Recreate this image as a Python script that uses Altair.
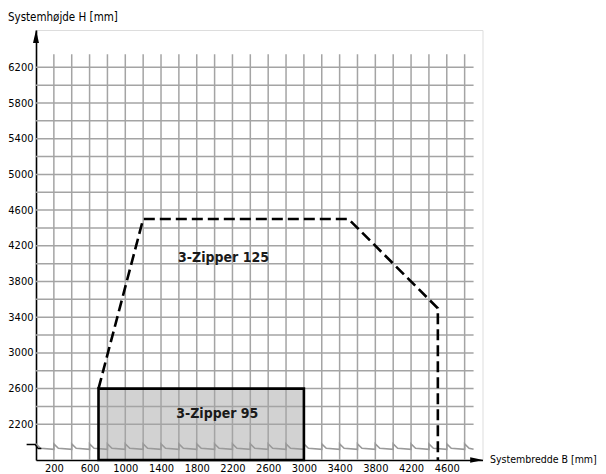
import altair as alt
import pandas as pd

# ---- data ----
x_ticks = [200, 600, 1000, 1400, 1800, 2200, 2600, 3000, 3400, 3800, 4200, 4600]
y_ticks = [2200, 2600, 3000, 3400, 3800, 4200, 4600, 5000, 5400, 5800, 6200]
grid_x = list(range(200, 4801, 200))
grid_y = list(range(2200, 6201, 200))

z125_x = [700, 1200, 3500, 4500, 4500]
z125_y = [2600, 4500, 4500, 3500, 1800]

z95_x = [700, 3000]
z95_y = [1800, 2600]

label_text = ["3-Zipper 125", "3-Zipper 95"]
label_x = [2100, 2030]
label_y = [4060, 2320]

x_title = "Systembredde B [mm]"
y_title = "Systemhøjde H [mm]"

# ---- layout constants ----
X_DOMAIN = [0, 5000]
Y_DOMAIN = [1800, 6618]
GRID_TOP = 6345
GRID_RIGHT = 4900
FONT = "DejaVu Sans Condensed, DejaVu Sans, sans-serif"
GRID_COLOR = "#a4a4a4"

xs = alt.Scale(domain=X_DOMAIN, nice=False, zero=False)
ys = alt.Scale(domain=Y_DOMAIN, nice=False, zero=False)

x_axis = alt.Axis(values=x_ticks, format="d", ticks=False, grid=False, title=None,
                  domainColor="black", domainWidth=1.6, labelFont=FONT,
                  labelFontSize=11, labelColor="black", labelPadding=2,
                  labelFlush=False)
y_axis = alt.Axis(values=y_ticks, format="d", ticks=False, grid=False, title=None,
                  domainColor="black", domainWidth=1.6, labelFont=FONT,
                  labelFontSize=11, labelColor="black", labelPadding=3,
                  labelFlush=False)

# fill of the 3-Zipper 95 area
rect_df = pd.DataFrame({"x": [z95_x[0]], "x2": [z95_x[1]], "y": [z95_y[0]], "y2": [z95_y[1]]})
rect_fill = alt.Chart(rect_df).mark_rect(fill="#d2d2d2").encode(
    x=alt.X("x:Q", scale=xs, axis=x_axis), x2="x2:Q",
    y=alt.Y("y:Q", scale=ys, axis=y_axis), y2="y2:Q")

# grid
vgrid = alt.Chart(pd.DataFrame({"x": grid_x})).mark_rule(
    color=GRID_COLOR, strokeWidth=1.5).encode(
    x=alt.X("x:Q", scale=xs), y=alt.datum(Y_DOMAIN[0]), y2=alt.datum(GRID_TOP))
hgrid = alt.Chart(pd.DataFrame({"y": grid_y})).mark_rule(
    color=GRID_COLOR, strokeWidth=1.5).encode(
    y=alt.Y("y:Q", scale=ys), x=alt.datum(0), x2=alt.datum(GRID_RIGHT))

# axis break sawtooth
zz = []
i = 0
for s in [0] + grid_x:
    e = min(s + 200, GRID_RIGHT)
    for px, py in [(s, 1980), (s + 50, 1932), (e, 1920)]:
        zz.append({"x": px, "y": py, "o": i})
        i += 1
zig = alt.Chart(pd.DataFrame(zz)).mark_line(color="#9a9a9a", strokeWidth=1.6).encode(
    x=alt.X("x:Q", scale=xs), y=alt.Y("y:Q", scale=ys), order="o:Q")

brk = pd.DataFrame({"x": [-105, -10, 25, 60], "y": [1975, 1975, 1928, 1928], "o": [0, 1, 2, 3]})
brk_line = alt.Chart(brk).mark_line(color="black", strokeWidth=1.5).encode(
    x=alt.X("x:Q", scale=xs), y=alt.Y("y:Q", scale=ys), order="o:Q")

# border of the 3-Zipper 95 area
rect_border = alt.Chart(rect_df).mark_rect(fillOpacity=0, stroke="black", strokeWidth=2.6).encode(
    x=alt.X("x:Q", scale=xs), x2="x2:Q", y=alt.Y("y:Q", scale=ys), y2="y2:Q")

# dashed 3-Zipper 125 outline
z125 = pd.DataFrame({"x": z125_x, "y": z125_y, "o": list(range(len(z125_x)))})
z125_line = alt.Chart(z125).mark_line(color="black", strokeWidth=2.6,
                                      strokeDash=[11, 5], strokeCap="butt").encode(
    x=alt.X("x:Q", scale=xs), y=alt.Y("y:Q", scale=ys), order="o:Q")

# labels
lab = pd.DataFrame({"t": label_text, "x": label_x, "y": label_y})
labels = alt.Chart(lab).mark_text(font=FONT, fontSize=14, fontWeight="bold",
                                  color="#1a1a1a").encode(
    x=alt.X("x:Q", scale=xs), y=alt.Y("y:Q", scale=ys), text="t:N")

# arrows
up_arrow = alt.Chart(pd.DataFrame({"x": [0], "y": [6545]})).mark_point(
    shape="M0,-1L0.46,1L-0.46,1Z", size=169, filled=True, color="black", opacity=1).encode(
    x=alt.X("x:Q", scale=xs), y=alt.Y("y:Q", scale=ys))
right_arrow = alt.Chart(pd.DataFrame({"x": [4935], "y": [1800]})).mark_point(
    shape="M1,0L-1,0.42L-1,-0.42Z", size=169, filled=True, color="black", opacity=1).encode(
    x=alt.X("x:Q", scale=xs), y=alt.Y("y:Q", scale=ys))

# axis titles
titles = pd.DataFrame({"t": [x_title, y_title], "x": [5084, -314],
                       "y": [1800, 6750], "s": [10.5, 11.5]})
title_marks = alt.Chart(titles).mark_text(font=FONT, color="black",
                                          align="left", baseline="middle").encode(
    x=alt.X("x:Q", scale=xs), y=alt.Y("y:Q", scale=ys), text="t:N",
    size=alt.Size("s:Q", scale=None, legend=None))

chart = alt.layer(rect_fill, vgrid, hgrid, zig, brk_line, rect_border, z125_line,
                  labels, up_arrow, right_arrow, title_marks).properties(
    width=446.5, height=430,
    padding={"left": 28, "top": 22, "right": 115.5, "bottom": 14},
    autosize=alt.AutoSizeParams(type="none"),
).configure_view(stroke=None).configure(background="white")

chart.save("out.html", embed_options={"renderer": "svg", "actions": False})
